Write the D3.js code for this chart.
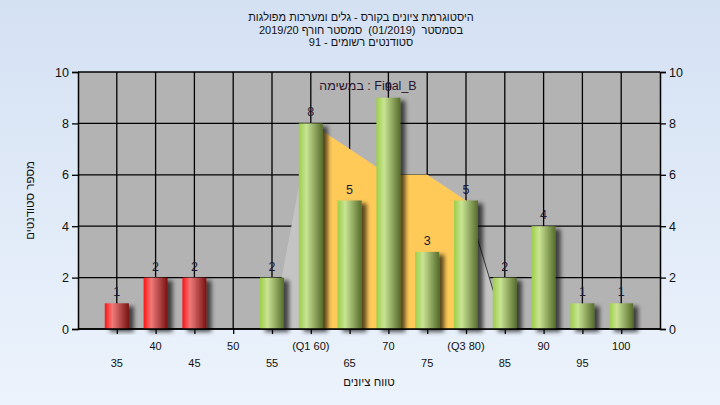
<!DOCTYPE html>
<html><head><meta charset="utf-8">
<script src="https://cdn.jsdelivr.net/npm/d3@7/dist/d3.min.js"></script>
<style>
html,body{margin:0;padding:0;background:#fff;}
svg{display:block;font-family:"Liberation Sans",Arial,sans-serif;}
</style></head>
<body>
<svg id="chart" width="720" height="405"></svg>
<script>
// ---- data ----
const titleLines = [
  "היסטוגרמת ציונים בקורס - גלים ומערכות מפולגות",
  "בסמסטר  (01/2019)  סמסטר חורף 2019/20",
  "סטודנטים רשומים - 91"
];
const categories = [35,40,45,50,55,60,65,70,75,80,85,90,95,100];
const counts     = [1,2,2,0,2,8,5,9,3,5,2,4,1,1];
const xLabels    = ["35","40","45","50","55","(Q1 60)","65","70","75","(Q3 80)","85","90","95","100"];
const failBelow  = 50;
const areaCats   = [55,60,65,70,75,80,85];
const areaValues = [0,8,7,6,6,5,0];
const iqrCats    = [60,65,70,75,80];
const yTicks     = [0,2,4,6,8,10];
const yTitle = "מספר סטודנטים";
const xTitle = "טווח ציונים";
const legendText = "במשימה : Final_B";

// ---- layout ----
const W=720,H=405;
const L=78,R=660,T=72,B=329;
const svg = d3.select("#chart");
const defs = svg.append("defs");

const bg = defs.append("linearGradient").attr("id","bg").attr("x1",0).attr("y1",0).attr("x2",0).attr("y2",1);
bg.append("stop").attr("offset","0%").attr("stop-color","#d4e1f3");
bg.append("stop").attr("offset","100%").attr("stop-color","#ecf3fc");
svg.append("rect").attr("width",W).attr("height",H).attr("fill","url(#bg)");

function grad(id, c0, c1, c2){
  const g = defs.append("linearGradient").attr("id",id).attr("x1",0).attr("y1",0).attr("x2",1).attr("y2",0);
  g.append("stop").attr("offset","0%").attr("stop-color",c0);
  g.append("stop").attr("offset","32%").attr("stop-color",c1);
  g.append("stop").attr("offset","100%").attr("stop-color",c2);
}
grad("gRed","#ff1414","#f07a7a","#781212");
grad("gGreen","#9cce48","#c9e494","#566c2c");

const f = defs.append("filter").attr("id","shadow").attr("x","-20%").attr("y","-20%").attr("width","160%").attr("height","140%");
f.append("feDropShadow").attr("dx",5).attr("dy",3).attr("stdDeviation",2).attr("flood-color","#000").attr("flood-opacity",0.65);

const x = d3.scalePoint().domain(categories).range([L,R]).padding(1);
const y = d3.scaleLinear().domain([0,10]).range([B,T]);

// plot background
svg.append("rect").attr("x",L).attr("y",T).attr("width",R-L).attr("height",B-T).attr("fill","#b3b3b3");

// gridlines
const grid = svg.append("g").attr("stroke","#000").attr("stroke-width",1.3);
grid.selectAll("line.h").data(yTicks).join("line")
  .attr("x1",L).attr("x2",R).attr("y1",d=>y(d)).attr("y2",d=>y(d));
grid.selectAll("line.v").data(categories).join("line")
  .attr("x1",d=>x(d)).attr("x2",d=>x(d)).attr("y1",T).attr("y2",B);

// area (full range grey, IQR yellow)
const areaData = areaCats.map((c,i)=>({c,v:areaValues[i]}));
const area = d3.area().x(d=>x(d.c)).y0(y(0)).y1(d=>y(d.v));
svg.append("path").datum(areaData).attr("d",area).attr("fill","#c4c4c4");
svg.append("path").datum(areaData.filter(d=>iqrCats.includes(d.c))).attr("d",area).attr("fill","#ffca58");
const lastTwo = areaData.slice(-2);
svg.append("path").datum(lastTwo).attr("d",d3.line().x(d=>x(d.c)).y(d=>y(d.v)))
  .attr("stroke","#3a3a3a").attr("stroke-width",1).attr("fill","none");

// bars
const bw = 24;
const barData = categories.map((c,i)=>({c,v:counts[i]})).filter(d=>d.v>0);
svg.append("g").selectAll("rect").data(barData).join("rect")
  .attr("x",d=>x(d.c)-bw/2).attr("width",bw)
  .attr("y",d=>y(d.v)).attr("height",d=>y(0)-y(d.v))
  .attr("fill",d=>d.c<failBelow?"url(#gRed)":"url(#gGreen)")
  .attr("filter","url(#shadow)");

// axes
const axL = svg.append("g").attr("transform",`translate(${L},0)`)
  .call(d3.axisLeft(y).tickValues(yTicks).tickSize(6).tickPadding(3));
const axR = svg.append("g").attr("transform",`translate(${R},0)`)
  .call(d3.axisRight(y).tickValues(yTicks).tickSize(6).tickPadding(3));
const axB = svg.append("g").attr("transform",`translate(0,${B})`)
  .call(d3.axisBottom(x).tickSize(5).tickFormat(""));
[axL,axR,axB].forEach(a=>{
  a.select(".domain").attr("stroke","#000").attr("stroke-width",1.5);
  a.selectAll(".tick line").attr("stroke","#000").attr("stroke-width",1.3);
  a.selectAll(".tick text").attr("fill","#111").style("font-size","12.5px").style("font-family","Liberation Sans, Arial, sans-serif");
});
axB.select(".domain").attr("d",`M${L},0H${R}`);

// x labels staggered
svg.append("g").selectAll("text").data(categories).join("text")
  .attr("x",d=>x(d)).attr("y",(d,i)=>i%2===1?350:367)
  .attr("text-anchor","middle").attr("font-size","11px").attr("fill","#111")
  .text((d,i)=>xLabels[i]);

// value labels
svg.append("g").selectAll("text").data(barData).join("text")
  .attr("x",d=>x(d.c)).attr("y",d=>y(d.v)-7)
  .attr("text-anchor","middle").attr("font-size","12.5px").attr("fill","#1c1c38")
  .text(d=>d.v);

// legend / series name
svg.append("text").attr("x",368).attr("y",90).attr("text-anchor","middle")
  .attr("font-size","12.5px").attr("fill","#2a1430").style("direction","ltr").text(legendText);

// titles
svg.append("g").selectAll("text").data(titleLines).join("text")
  .attr("x",361).attr("y",(d,i)=>21+i*12.5).attr("text-anchor","middle")
  .attr("font-size","11px").attr("fill","#111").style("direction","rtl")
  .style("white-space","pre").text(d=>d);

svg.append("text").attr("transform",`translate(34,${(T+B)/2}) rotate(-90)`)
  .attr("text-anchor","middle").attr("font-size","11.5px").attr("fill","#111")
  .style("direction","rtl").text(yTitle);
svg.append("text").attr("x",(L+R)/2).attr("y",386).attr("text-anchor","middle")
  .attr("font-size","11.5px").attr("fill","#111").style("direction","rtl").text(xTitle);
</script>
</body></html>
